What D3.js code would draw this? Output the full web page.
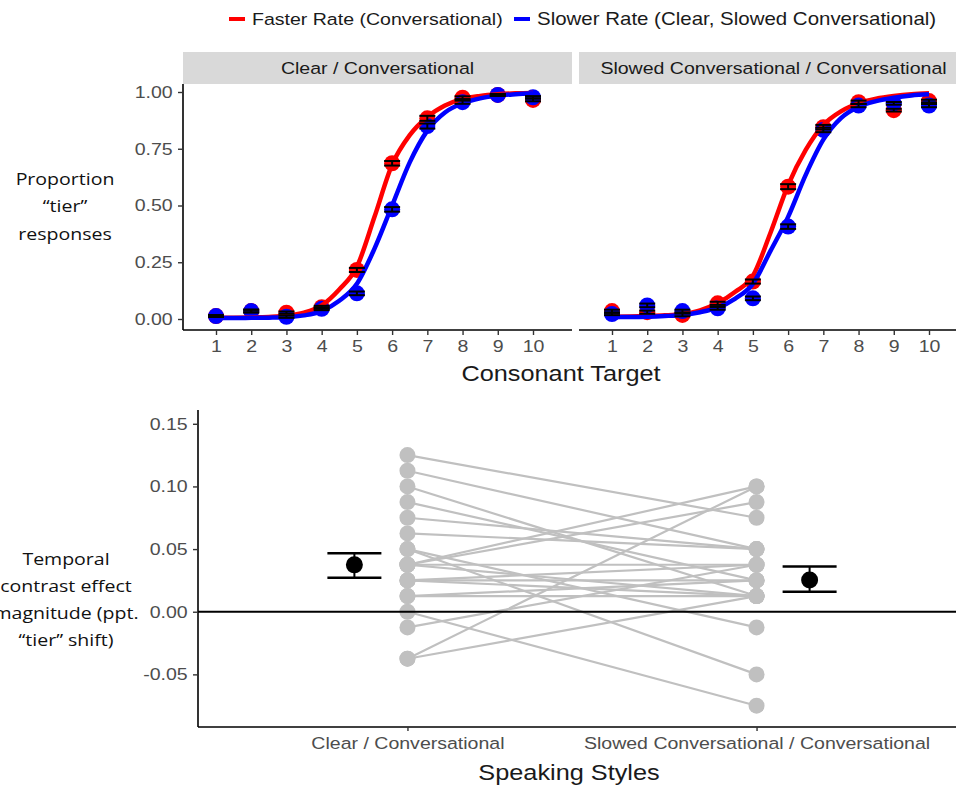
<!DOCTYPE html>
<html>
<head>
<meta charset="utf-8">
<script src="https://cdn.jsdelivr.net/npm/d3@7"></script>
<style>
  body { margin: 0; background: #fff; }
  svg { display: block; font-family: "Liberation Sans", Arial, sans-serif; }
  .tick text { fill: #4d4d4d; font-size: 17px; }
  .domain { stroke: #000; stroke-width: 1.6px; }
  .tick line { stroke: #333; stroke-width: 1.4px; }
  .side-label { font-family: "Open Sans", "Noto Sans", sans-serif; font-size: 17px; fill: #111; }
</style>
</head>
<body>
<div id="chart"></div>
<script>
// ---- top: identification curves ----
const targets = [1, 2, 3, 4, 5, 6, 7, 8, 9, 10];
const panels = ['Clear / Conversational', 'Slowed Conversational / Conversational'];

const clearFaster = [0.013, 0.035, 0.028, 0.052, 0.216, 0.686, 0.884, 0.975, 0.987, 0.965];
const clearSlower = [0.013, 0.035, 0.010, 0.045, 0.113, 0.483, 0.850, 0.955, 0.987, 0.977];
const slowedFaster = [0.035, 0.030, 0.018, 0.069, 0.165, 0.583, 0.845, 0.955, 0.920, 0.960];
const slowedSlower = [0.022, 0.060, 0.035, 0.047, 0.091, 0.407, 0.833, 0.940, 0.950, 0.940];

const clearFasterSe = [0.004, 0.006, 0.005, 0.006, 0.009, 0.010, 0.011, 0.006, 0.004, 0.006];
const clearSlowerSe = [0.004, 0.006, 0.005, 0.006, 0.008, 0.010, 0.011, 0.007, 0.004, 0.005];
const slowedFasterSe = [0.006, 0.007, 0.006, 0.007, 0.009, 0.011, 0.010, 0.007, 0.006, 0.006];
const slowedSlowerSe = [0.005, 0.008, 0.006, 0.006, 0.008, 0.010, 0.010, 0.007, 0.006, 0.007];

// fitted curves at half steps
const fitX = [1, 1.5, 2, 2.5, 3, 3.5, 4, 4.5, 5, 5.5, 6, 6.5, 7, 7.5, 8, 8.5, 9, 9.5, 10];
const clearFasterFit = [0.005, 0.006, 0.007, 0.009, 0.014, 0.028, 0.060, 0.130, 0.230, 0.450, 0.680, 0.810, 0.890, 0.940, 0.970, 0.983, 0.990, 0.994, 0.996];
const clearSlowerFit = [0.004, 0.004, 0.005, 0.006, 0.008, 0.016, 0.035, 0.080, 0.155, 0.310, 0.500, 0.690, 0.830, 0.910, 0.950, 0.972, 0.984, 0.990, 0.994];
const slowedFasterFit = [0.010, 0.011, 0.013, 0.016, 0.022, 0.038, 0.070, 0.120, 0.190, 0.380, 0.590, 0.745, 0.855, 0.915, 0.950, 0.970, 0.982, 0.990, 0.994];
const slowedSlowerFit = [0.008, 0.009, 0.010, 0.013, 0.018, 0.030, 0.050, 0.090, 0.155, 0.300, 0.450, 0.635, 0.790, 0.885, 0.935, 0.960, 0.975, 0.985, 0.990];

const rateLabels = ['Faster Rate (Conversational)', 'Slower Rate (Clear, Slowed Conversational)'];
const rateColors = ['#ff0000', '#0000ff'];

// ---- bottom: per-participant effect ----
const styles = ['Clear / Conversational', 'Slowed Conversational / Conversational'];
const clearEffect = [0.125, 0.1125, 0.1, 0.0875, 0.075, 0.0625, 0.05, 0.05, 0.0375, 0.0375, 0.0375, 0.0375,
                     0.025, 0.025, 0.025, 0.0125, 0.0125, 0, -0.0125, -0.0375, -0.0375];
const slowedEffect = [0.075, 0.05, 0.0125, 0.025, 0.05, 0.05, -0.05, -0.0125, 0.1, 0.0875, 0.0375, 0.0125,
                      0.025, 0.0375, 0.0125, 0.0125, 0.025, -0.075, 0.0375, 0.1, 0.0125];
const meanEffect = [0.0374, 0.0254];
const ciLow = [0.0272, 0.016];
const ciHigh = [0.0467, 0.036];
const effectTicks = [-0.05, 0, 0.05, 0.10, 0.15];

const W = 956, H = 786;
const SX = 1.15; // the source figure is a bit stretched sideways

const svg = d3.select('#chart').append('svg')
    .attr('width', W)
    .attr('height', H);

// plain text helper, stretched like the source
function addText(parent, x, y, str, size, anchor) {
    return parent.append('g')
        .attr('transform', `translate(${x},${y}) scale(${SX},1)`)
        .append('text')
        .attr('dy', '0.35em')
        .attr('text-anchor', anchor || 'start')
        .style('font-size', size + 'px')
        .style('fill', '#1a1a1a')
        .text(str);
}

const fmt2 = v => d3.format('.2f')(v).replace('\u2212', '-');

// legend
const legendKeys = [229, 514];
rateLabels.forEach((lab, i) => {
    svg.append('line')
        .attr('x1', legendKeys[i]).attr('x2', legendKeys[i] + 16)
        .attr('y1', 19).attr('y2', 19)
        .style('stroke', rateColors[i])
        .style('stroke-width', 4);
    addText(svg, legendKeys[i] + 23, 19, lab, i === 0 ? 17 : 17.8);
});

// top facets
const panelW = 389;
const panelLeft = [183, 579];
const topY = d3.scaleLinear().domain([0, 1]).range([319, 92]);
const topX = d3.scaleLinear().domain([1, 10]).range([33, 350]);

const panelData = [
    { fast: clearFaster, slow: clearSlower, fastSe: clearFasterSe, slowSe: clearSlowerSe, fastFit: clearFasterFit, slowFit: clearSlowerFit },
    { fast: slowedFaster, slow: slowedSlower, fastSe: slowedFasterSe, slowSe: slowedSlowerSe, fastFit: slowedFasterFit, slowFit: slowedSlowerFit }
];

panels.forEach((name, p) => {
    const g = svg.append('g').attr('transform', `translate(${panelLeft[p]},0)`);

    // strip
    g.append('rect')
        .attr('x', 0).attr('y', 52)
        .attr('width', panelW).attr('height', 32)
        .style('fill', '#d9d9d9');
    addText(g, panelW / 2, 68, name, 17, 'middle');

    const d = panelData[p];
    const series = [
        { vals: d.fast, se: d.fastSe, fit: d.fastFit, color: rateColors[0] },
        { vals: d.slow, se: d.slowSe, fit: d.slowFit, color: rateColors[1] }
    ];

    // points
    series.forEach(s => {
        g.selectAll(null)
            .data(targets)
            .enter()
            .append('circle')
            .attr('cx', t => topX(t))
            .attr('cy', (t, i) => topY(s.vals[i]))
            .attr('r', 8)
            .style('fill', s.color);
    });

    // fitted lines
    const line = d3.line()
        .x((v, i) => topX(fitX[i]))
        .y(v => topY(v))
        .curve(d3.curveMonotoneX);
    series.forEach(s => {
        g.append('path')
            .datum(s.fit)
            .attr('d', line)
            .style('fill', 'none')
            .style('stroke', s.color)
            .style('stroke-width', 4.5);
    });

    // error bars
    series.forEach(s => {
        targets.forEach((t, i) => {
            const cx = topX(t);
            [s.vals[i] - s.se[i], s.vals[i] + s.se[i]].forEach(v => {
                g.append('line')
                    .attr('x1', cx - 8).attr('x2', cx + 8)
                    .attr('y1', topY(v)).attr('y2', topY(v))
                    .style('stroke', '#000')
                    .style('stroke-width', 2);
            });
            g.append('line')
                .attr('x1', cx).attr('x2', cx)
                .attr('y1', topY(s.vals[i] - s.se[i])).attr('y2', topY(s.vals[i] + s.se[i]))
                .style('stroke', '#000')
                .style('stroke-width', 2);
        });
    });

    // x axis
    const xa = g.append('g')
        .attr('transform', 'translate(0,330)')
        .call(d3.axisBottom(topX).tickValues(targets).tickSize(5).tickPadding(5).tickSizeOuter(0));
    xa.select('.domain').attr('d', `M0,0H${panelW}`);
    xa.selectAll('.tick text').attr('transform', `scale(${SX},1)`);

    if (p === 0) {
        const ya = g.append('g')
            .call(d3.axisLeft(topY).tickValues([0, 0.25, 0.5, 0.75, 1])
                .tickFormat(fmt2).tickSize(5).tickPadding(4).tickSizeOuter(0));
        ya.select('.domain').attr('d', 'M0,84V330');
        ya.selectAll('.tick text').attr('transform', `scale(${SX},1)`);
    }
});

addText(svg, 561, 373, 'Consonant Target', 22, 'middle');

// left labels (top)
const topLabel = ['Proportion', '\u201Ctier\u201D', 'responses'];
svg.append('g')
    .attr('transform', `translate(65,0) scale(${SX},1)`)
    .append('text')
    .attr('class', 'side-label')
    .attr('text-anchor', 'middle')
    .selectAll('tspan')
    .data(topLabel)
    .enter()
    .append('tspan')
    .attr('x', 0)
    .attr('y', (d, i) => 185 + i * 27.5)
    .text(d => d);

// bottom panel
const axisX = 198;
const bx = d3.scalePoint().domain(styles).range([axisX, 966]).padding(0.6);
const by = d3.scaleLinear().domain([-0.092, 0.161]).range([727, 410]);
const dodge = 0.152 * bx.step();

const bottom = svg.append('g');

clearEffect.forEach((v, i) => {
    bottom.append('line')
        .attr('x1', bx(styles[0])).attr('y1', by(v))
        .attr('x2', bx(styles[1])).attr('y2', by(slowedEffect[i]))
        .style('stroke', '#c0c0c0')
        .style('stroke-width', 2.2);
});
[clearEffect, slowedEffect].forEach((vals, k) => {
    bottom.selectAll(null)
        .data(vals)
        .enter()
        .append('circle')
        .attr('cx', bx(styles[k]))
        .attr('cy', v => by(v))
        .attr('r', 8)
        .style('fill', '#c0c0c0');
});

bottom.append('line')
    .attr('x1', axisX).attr('x2', W)
    .attr('y1', by(0)).attr('y2', by(0))
    .style('stroke', '#000')
    .style('stroke-width', 2);

styles.forEach((s, k) => {
    const cx = bx(s) + (k === 0 ? -dodge : dodge);
    [ciLow[k], ciHigh[k]].forEach(v => {
        bottom.append('line')
            .attr('x1', cx - 27).attr('x2', cx + 27)
            .attr('y1', by(v)).attr('y2', by(v))
            .style('stroke', '#000')
            .style('stroke-width', 2.5);
    });
    bottom.append('line')
        .attr('x1', cx).attr('x2', cx)
        .attr('y1', by(ciLow[k])).attr('y2', by(ciHigh[k]))
        .style('stroke', '#000')
        .style('stroke-width', 2);
    bottom.append('circle')
        .attr('cx', cx).attr('cy', by(meanEffect[k]))
        .attr('r', 8.5)
        .style('fill', '#000');
});

const bxa = svg.append('g')
    .attr('transform', 'translate(0,727)')
    .call(d3.axisBottom(bx).tickSize(4).tickPadding(6).tickSizeOuter(0));
bxa.select('.domain').attr('d', `M${axisX},0H${W}`);
bxa.selectAll('.tick text').attr('transform', `scale(${SX},1)`);

const bya = svg.append('g')
    .attr('transform', `translate(${axisX},0)`)
    .call(d3.axisLeft(by).tickValues(effectTicks).tickFormat(fmt2)
        .tickSize(5).tickPadding(4).tickSizeOuter(0));
bya.select('.domain').attr('d', 'M0,410V727');
bya.selectAll('.tick text').attr('transform', `scale(${SX},1)`);

addText(svg, 569, 772, 'Speaking Styles', 22, 'middle');

// left labels (bottom) - cut at the left edge, as in the source
const bottomLabel = ['Temporal', 'contrast effect', 'magnitude (ppt.', '\u201Ctier\u201D shift)'];
svg.append('g')
    .attr('transform', `translate(66,0) scale(${SX},1)`)
    .append('text')
    .attr('class', 'side-label')
    .attr('text-anchor', 'middle')
    .selectAll('tspan')
    .data(bottomLabel)
    .enter()
    .append('tspan')
    .attr('x', 0)
    .attr('y', (d, i) => 565 + i * 27)
    .text(d => d);
</script>
</body>
</html>
